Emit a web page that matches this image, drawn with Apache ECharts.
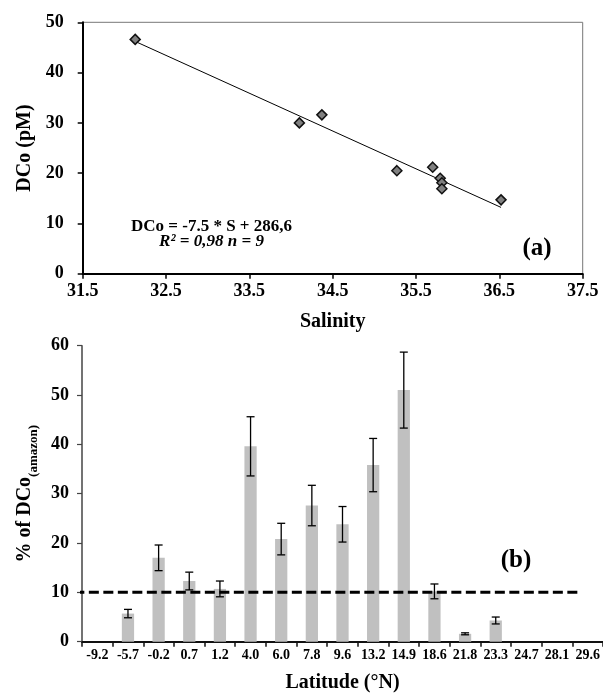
<!DOCTYPE html>
<html>
<head>
<meta charset="utf-8">
<script src="https://cdn.jsdelivr.net/npm/echarts@6/dist/echarts.min.js"></script>
<style>
html,body{margin:0;padding:0;background:#fff;}
#c{width:603px;height:694px;}
</style>
</head>
<body>
<div id="c"></div>
<script>
// Panel (a): DCo vs salinity
const salinity = [32.13, 34.10, 34.37, 35.27, 35.70, 35.79, 35.81, 35.81, 36.52];
const dco = [46.6, 30.0, 31.6, 20.5, 21.2, 19.0, 18.1, 16.9, 14.7];
const trendX = [32.13, 36.52];
const trendY = [46.2, 13.2];
const salinityTicks = [31.5, 32.5, 33.5, 34.5, 35.5, 36.5, 37.5];

// Panel (b): % of DCo(amazon) by latitude
const latitudes = ['-9.2','-5.7','-0.2','0.7','1.2','4.0','6.0','7.8','9.6','13.2','14.9','18.6','21.8','23.3','24.7','28.1','29.6'];
const pctAmazon = [0, 5.7, 17.0, 12.3, 10.7, 39.6, 20.8, 27.6, 23.8, 35.8, 51.0, 10.2, 1.6, 4.3, 0, 0, 0];
const pctError = [0, 0.85, 2.6, 1.8, 1.6, 6.0, 3.2, 4.1, 3.6, 5.4, 7.7, 1.5, 0.2, 0.7, 0, 0, 0];
const refX = [-0.25, 16.2];
const refY = [10, 10];

const FONT = 'Liberation Serif, Times New Roman, serif';
const chart = echarts.init(document.getElementById('c'), null, {renderer: 'canvas'});

const scatterData = salinity.map((s, i) => [s, dco[i]]);
const trendData = trendX.map((x, i) => [x, trendY[i]]);
const barData = pctAmazon.slice();
const errData = latitudes.map((c, i) => [i, pctAmazon[i], pctError[i]]);
const refData = refX.map((x, i) => [x, refY[i]]);

const option = {
  backgroundColor: '#fff',
  animation: false,
  grid: [
    {left: 82.7, top: 22.3, width: 500, height: 251.5, show: true, borderColor: '#777', borderWidth: 1, backgroundColor: 'transparent'},
    {left: 82, top: 345.7, width: 521, height: 296}
  ],
  xAxis: [
    {
      type: 'value', gridIndex: 0, min: salinityTicks[0], max: salinityTicks[salinityTicks.length - 1], interval: 1,
      name: 'Salinity', nameLocation: 'middle', nameGap: 38,
      nameTextStyle: {fontFamily: FONT, fontWeight: 'bold', fontSize: 20, color: '#000'},
      axisLine: {show: true, lineStyle: {color: '#000', width: 2}},
      axisTick: {show: true, inside: false, length: 5, lineStyle: {color: '#000', width: 1.5}},
      axisLabel: {fontFamily: FONT, fontWeight: 'bold', fontSize: 18, color: '#000', margin: 9, formatter: v => v.toFixed(1)},
      splitLine: {show: false}
    },
    {
      type: 'category', gridIndex: 1, data: latitudes, boundaryGap: true,
      name: 'Latitude (°N)', nameLocation: 'middle', nameGap: 31,
      nameTextStyle: {fontFamily: FONT, fontWeight: 'bold', fontSize: 20, color: '#000'},
      axisLine: {show: true, lineStyle: {color: '#111', width: 2}},
      axisTick: {show: true, inside: false, length: 5, alignWithLabel: false, interval: 0, lineStyle: {color: '#111', width: 1.5}},
      axisLabel: {interval: 0, fontFamily: FONT, fontWeight: 'bold', fontSize: 14, color: '#000', margin: 7},
      splitLine: {show: false}
    },
    {
      type: 'value', gridIndex: 1, min: 0, max: latitudes.length, show: false
    }
  ],
  yAxis: [
    {
      type: 'value', gridIndex: 0, min: 0, max: 50, interval: 10,
      name: 'DCo (pM)', nameLocation: 'middle', nameGap: 46,
      nameTextStyle: {fontFamily: FONT, fontWeight: 'bold', fontSize: 20, color: '#000'},
      axisLine: {show: true, lineStyle: {color: '#000', width: 2}},
      axisTick: {show: true, inside: false, length: 5, lineStyle: {color: '#000', width: 1.5}},
      axisLabel: {fontFamily: FONT, fontWeight: 'bold', fontSize: 18, color: '#000', margin: 19},
      splitLine: {show: false}
    },
    {
      type: 'value', gridIndex: 1, min: 0, max: 60, interval: 10,
      name: '% of DCo{sub|(amazon)}', nameLocation: 'middle', nameGap: 42,
      nameTextStyle: {
        fontFamily: FONT, fontWeight: 'bold', fontSize: 20, color: '#000', lineHeight: 30, verticalAlign: 'middle',
        rich: {sub: {fontFamily: FONT, fontWeight: 'bold', fontSize: 13, color: '#000', lineHeight: 14, verticalAlign: 'bottom'}}
      },
      axisLine: {show: true, lineStyle: {color: '#444', width: 1.5}},
      axisTick: {show: true, inside: false, length: 5, lineStyle: {color: '#444', width: 1.2}},
      axisLabel: {fontFamily: FONT, fontWeight: 'bold', fontSize: 18, color: '#000', margin: 13},
      splitLine: {show: false}
    }
  ],
  series: [
    {
      type: 'line', xAxisIndex: 0, yAxisIndex: 0, data: trendData, showSymbol: false, symbol: 'none',
      lineStyle: {color: '#000', width: 1}, z: 2
    },
    {
      type: 'scatter', xAxisIndex: 0, yAxisIndex: 0, data: scatterData, symbol: 'diamond', symbolSize: 10,
      itemStyle: {color: '#808080', borderColor: '#111', borderWidth: 1.5, opacity: 1}, z: 3
    },
    {
      type: 'bar', xAxisIndex: 1, yAxisIndex: 1, data: barData, barWidth: '40%',
      itemStyle: {color: '#c0c0c0'}, z: 2
    },
    {
      type: 'custom', xAxisIndex: 1, yAxisIndex: 1, data: errData, z: 4,
      renderItem: function (params, api) {
        const i = api.value(0), v = api.value(1), e = api.value(2);
        if (!e) return null;
        const hi = api.coord([i, v + e]);
        const lo = api.coord([i, v - e]);
        const hw = 4;
        const st = {stroke: '#000', lineWidth: 1.3};
        return {type: 'group', children: [
          {type: 'line', shape: {x1: hi[0], y1: hi[1], x2: lo[0], y2: lo[1]}, style: st},
          {type: 'line', shape: {x1: hi[0] - hw, y1: hi[1], x2: hi[0] + hw, y2: hi[1]}, style: st},
          {type: 'line', shape: {x1: lo[0] - hw, y1: lo[1], x2: lo[0] + hw, y2: lo[1]}, style: st}
        ]};
      }
    },
    {
      type: 'line', xAxisIndex: 2, yAxisIndex: 1, data: refData, showSymbol: false, symbol: 'none', clip: false,
      lineStyle: {color: '#000', width: 3, type: [10, 4.5]}, z: 5
    }
  ],
  graphic: [
    {type: 'text', left: null, x: 211.5, y: 226.7, style: {text: 'DCo = -7.5 * S + 286,6', font: 'bold 17px ' + FONT, fill: '#000', textAlign: 'center', textVerticalAlign: 'middle'}},
    {type: 'text', x: 211.5, y: 242, style: {text: 'R² = 0,98 n = 9', font: 'italic bold 17px ' + FONT, fill: '#000', textAlign: 'center', textVerticalAlign: 'middle'}},
    {type: 'text', x: 537, y: 249, style: {text: '(a)', font: 'bold 25px ' + FONT, fill: '#000', textAlign: 'center', textVerticalAlign: 'middle'}},
    {type: 'text', x: 516, y: 561, style: {text: '(b)', font: 'bold 25px ' + FONT, fill: '#000', textAlign: 'center', textVerticalAlign: 'middle'}}
  ]
};
chart.setOption(option);
</script>
</body>
</html>
